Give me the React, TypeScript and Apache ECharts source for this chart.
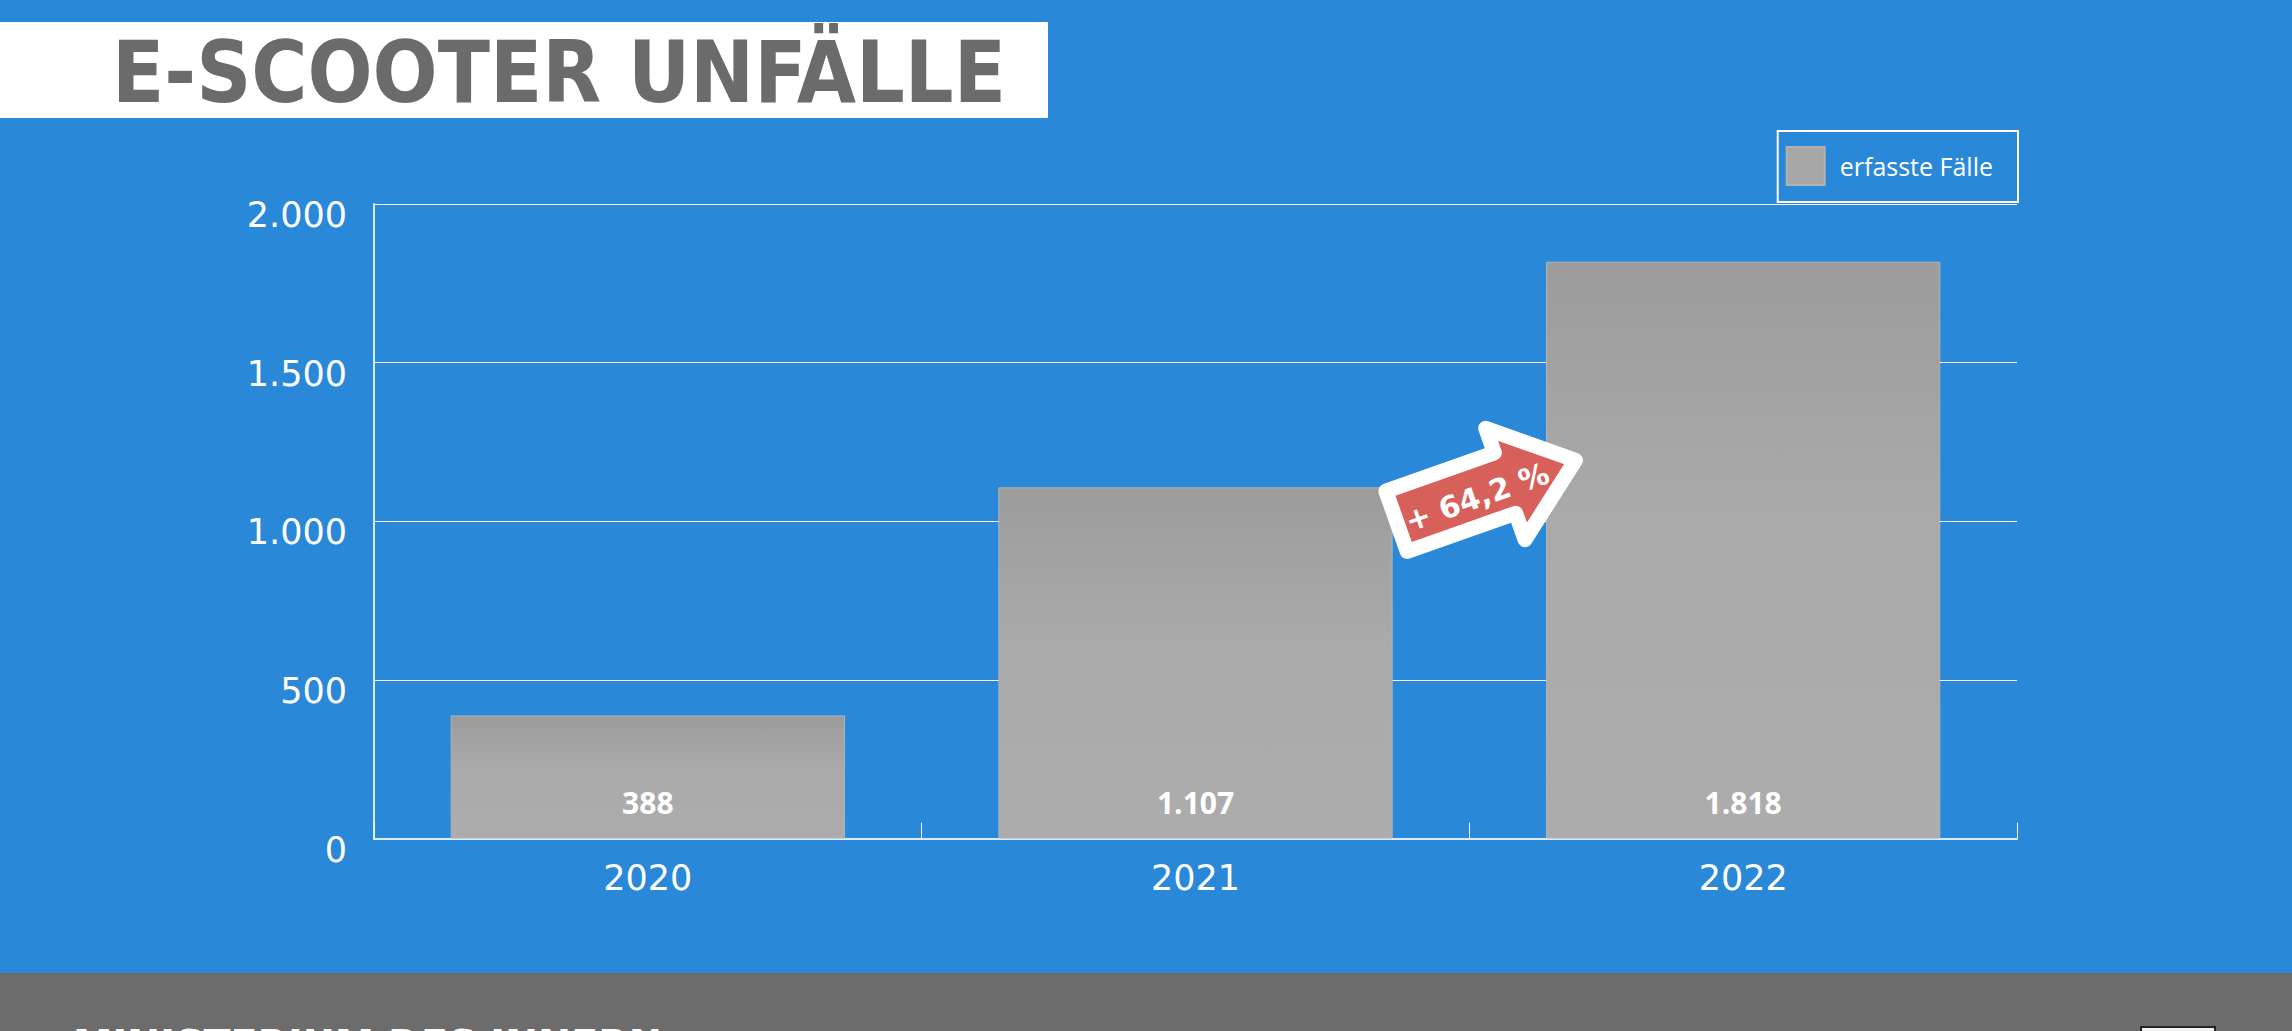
import React, { useEffect, useRef } from 'react';
import * as echarts from 'echarts';

const categories = ['2020', '2021', '2022'];
const cases = [388, 1107, 1818];
const seriesName = 'erfasste Fälle';
const titleText = 'E-SCOOTER UNFÄLLE';
const changeLabel = '+ 64,2 %';
const sourceText = 'MINISTERIUM DES INNERN';

const fmt = (v: number) => String(v).replace(/\B(?=(\d{3})+(?!\d))/g, '.');

export default function App() {
  const ref = useRef<HTMLDivElement>(null);
  useEffect(() => {
    if (!ref.current) return;
    const chart = echarts.init(ref.current, undefined, { renderer: 'svg' });
    const rot = 0.34;
    chart.setOption({
      animation: false,
      backgroundColor: '#2a88d8',
      grid: { left: 374, right: 275, top: 204, bottom: 192.5, containLabel: false },
      legend: {
        data: [seriesName],
        right: 274,
        top: 131,
        padding: [15, 25, 16, 8],
        itemWidth: 38,
        itemHeight: 38,
        icon: 'rect',
        borderColor: '#ffffff',
        borderWidth: 2,
        itemStyle: { color: '#a7a7a7' },
        textStyle: { color: '#ffffff', fontSize: 25, fontFamily: 'Open Sans', padding: [0, 0, 0, 10] },
      },
      xAxis: {
        type: 'category',
        data: categories,
        axisLine: { lineStyle: { color: '#d8ecfb', width: 2 } },
        axisTick: { show: true, inside: true, length: 16, lineStyle: { color: '#ffffff', width: 1 } },
        axisLabel: { color: '#ffffff', fontFamily: 'DejaVu Sans', fontSize: 35, margin: 22 },
      },
      yAxis: {
        type: 'value',
        min: 0,
        max: 2000,
        interval: 500,
        axisLine: { show: true, lineStyle: { color: '#d8ecfb', width: 2 } },
        axisTick: { show: false },
        splitLine: { lineStyle: { color: '#ffffff', width: 1 } },
        axisLabel: {
          color: '#ffffff',
          fontFamily: 'DejaVu Sans',
          fontSize: 35,
          margin: 27,
          verticalAlign: 'top',
          lineHeight: 22,
          formatter: (v: number) => fmt(v),
        },
      },
      series: [
        {
          type: 'bar',
          name: seriesName,
          data: cases,
          barWidth: '72%',
          itemStyle: {
            color: new echarts.graphic.LinearGradient(0, 0, 0, 1, [
              { offset: 0, color: '#9c9c9c' },
              { offset: 0.45, color: '#aaaaaa' },
              { offset: 1, color: '#acacac' },
            ]),
            borderColor: '#b2b2b2',
            borderWidth: 1,
          },
          label: {
            show: true,
            position: 'insideBottom',
            distance: 21,
            color: '#ffffff',
            fontFamily: 'Open Sans',
            fontWeight: 'bold',
            fontSize: 30,
            formatter: (p: any) => fmt(p.value),
          },
        },
      ],
      graphic: [
        { type: 'rect', z: 10, shape: { x: 0, y: 973, width: 2292, height: 58 }, style: { fill: '#6c6c6c' } },
        {
          type: 'text', z: 11, x: 73, y: 1024,
          style: { text: sourceText, fill: '#ffffff', fontSize: 44, fontWeight: 'bold', fontFamily: 'DejaVu Sans Condensed', align: 'left', verticalAlign: 'top' },
        },
        { type: 'rect', z: 11, shape: { x: 2141, y: 1027, width: 74, height: 10 }, style: { fill: '#f2f2f2', stroke: '#222222', lineWidth: 2 } },
        { type: 'rect', z: 10, shape: { x: 0, y: 22, width: 1048, height: 96 }, style: { fill: '#ffffff' } },
        {
          type: 'text', z: 11, x: 112, y: 72, scaleX: 0.99,
          style: { text: titleText, fill: '#6b6b6b', fontSize: 86, fontWeight: 'bold', fontFamily: 'DejaVu Sans Condensed', align: 'left', verticalAlign: 'middle' },
        },
        {
          type: 'group', z: 100, x: 1389, y: 524, rotation: rot,
          children: [
            {
              type: 'polygon', z: 100,
              shape: { points: [[8, -32], [123, -32], [123, -58], [197, 2], [123, 60], [123, 32], [8, 32]] },
              style: { fill: '#d8605a', stroke: '#ffffff', lineWidth: 15, lineJoin: 'round' },
            },
            {
              type: 'text', z: 101, x: 92, y: 4,
              style: { text: changeLabel, fill: '#ffffff', fontSize: 30, fontWeight: 'bold', fontFamily: 'DejaVu Sans', align: 'center', verticalAlign: 'middle' },
            },
          ],
        },
      ],
    });
    return () => chart.dispose();
  }, []);
  return <div ref={ref} style={{ position: 'fixed', left: 0, top: 0, width: '2292px', height: '1031px' }} />;
}
